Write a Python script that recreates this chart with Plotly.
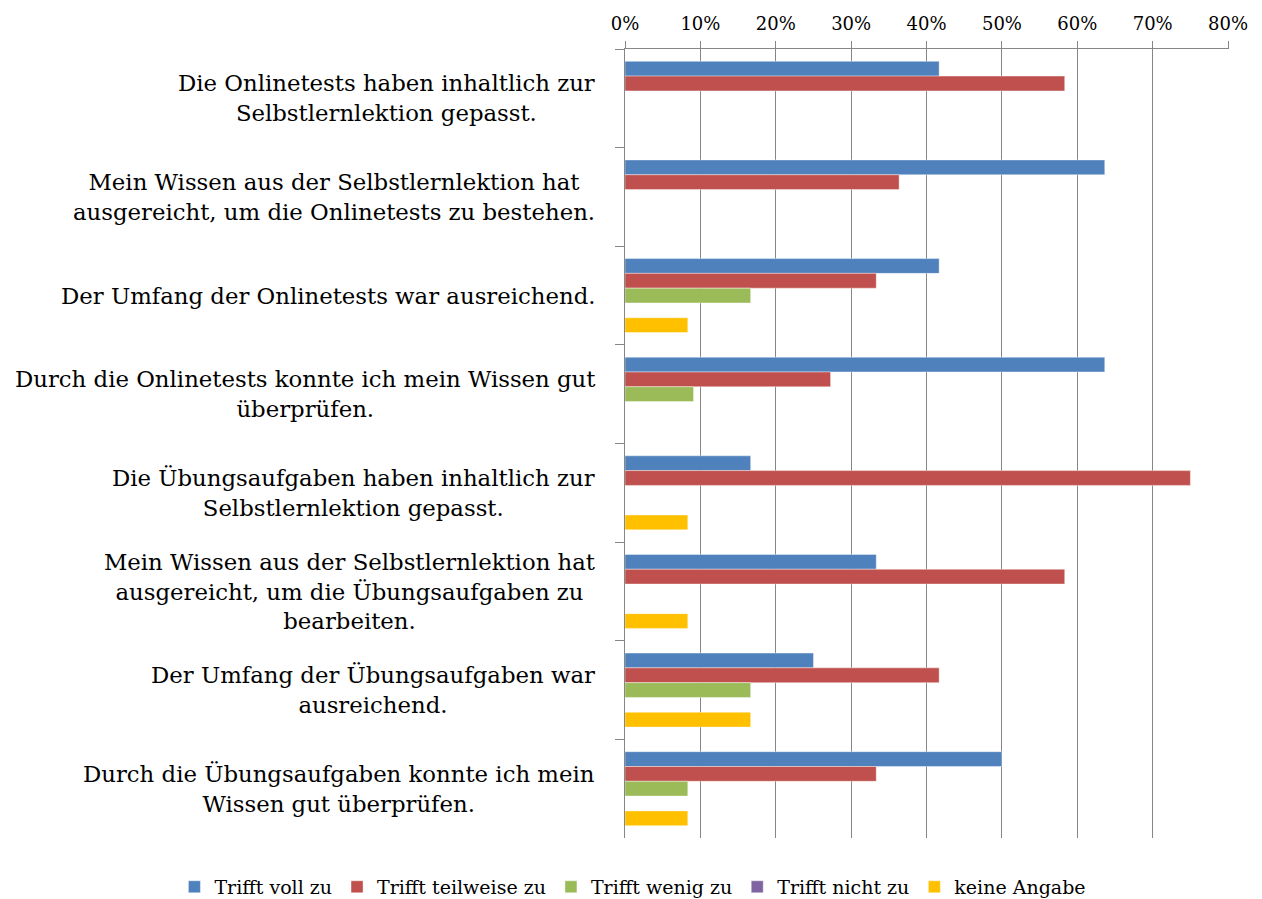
import plotly.graph_objects as go

categories = [
    "Die Onlinetests haben inhaltlich zur<br>Selbstlernlektion gepasst.",
    "Mein Wissen aus der Selbstlernlektion hat<br>ausgereicht, um die Onlinetests zu bestehen.",
    "Der Umfang der Onlinetests war ausreichend.",
    "Durch die Onlinetests konnte ich mein Wissen gut<br>überprüfen.",
    "Die Übungsaufgaben haben inhaltlich zur<br>Selbstlernlektion gepasst.",
    "Mein Wissen aus der Selbstlernlektion hat<br>ausgereicht, um die Übungsaufgaben zu<br>bearbeiten.",
    "Der Umfang der Übungsaufgaben war<br>ausreichend.",
    "Durch die Übungsaufgaben konnte ich mein<br>Wissen gut überprüfen.",
]

series_names = ["Trifft voll zu", "Trifft teilweise zu", "Trifft wenig zu", "Trifft nicht zu", "keine Angabe"]
voll_zu = [0.4167, 0.6364, 0.4167, 0.6364, 0.1667, 0.3333, 0.25, 0.50]
teilweise_zu = [0.5833, 0.3636, 0.3333, 0.2727, 0.75, 0.5833, 0.4167, 0.3333]
wenig_zu = [0.0, 0.0, 0.1667, 0.0909, 0.0, 0.0, 0.1667, 0.0833]
nicht_zu = [0.0, 0.0, 0.0, 0.0, 0.0, 0.0, 0.0, 0.0]
keine_angabe = [0.0, 0.0, 0.0833, 0.0, 0.0833, 0.0833, 0.1667, 0.0833]
colors = ["#4F81BD", "#C0504D", "#9BBB59", "#8064A2", "#FFC000"]

FONT = "DejaVu Serif"

fig = go.Figure()
for name, vals, col in zip(series_names, [voll_zu, teilweise_zu, wenig_zu, nicht_zu, keine_angabe], colors):
    fig.add_trace(go.Bar(
        y=categories, x=vals, name=name, orientation="h",
        marker=dict(color=col, line=dict(color="rgba(255,255,255,0.5)", width=0.8)),
        hoverinfo="x+name",
    ))

for c in categories:
    fig.add_annotation(
        x=0, y=c, xref="paper", yref="y", text=c, showarrow=False,
        xanchor="right", yanchor="middle", align="center", xshift=-28,
        font=dict(family=FONT, size=22.8, color="#000000"),
    )

fig.update_layout(
    width=1262, height=912,
    margin=dict(l=617, r=41, t=41, b=82),
    paper_bgcolor="white", plot_bgcolor="white",
    barmode="group", bargap=0.25, bargroupgap=0,
    font=dict(family=FONT, size=18, color="#000000"),
    xaxis=dict(
        side="top", range=[0, 0.8012], dtick=0.1, tickformat=".0%",
        showgrid=True, gridcolor="#868686", gridwidth=1.3,
        ticks="outside", ticklen=7, tickcolor="#868686", tickwidth=1.3,
        ticklabelstandoff=4, automargin=False,
        showline=True, linecolor="#868686", linewidth=1.3,
        zeroline=False,
        tickfont=dict(family=FONT, size=18, color="#000000"),
    ),
    yaxis=dict(
        autorange="reversed", type="category",
        showticklabels=False, tickson="boundaries", automargin=False,
        ticks="outside", ticklen=9, tickcolor="#868686", tickwidth=1.3,
        showline=True, linecolor="#868686", linewidth=1.3,
        showgrid=False, zeroline=False,
    ),
    legend=dict(
        orientation="h", xref="paper", yref="paper",
        x=-0.746, y=-0.062, xanchor="left", yanchor="middle",
        font=dict(family=FONT, size=19, color="#000000"),
        itemwidth=30, tracegroupgap=0,
    ),
    showlegend=True,
)

fig.write_html("out.html")
